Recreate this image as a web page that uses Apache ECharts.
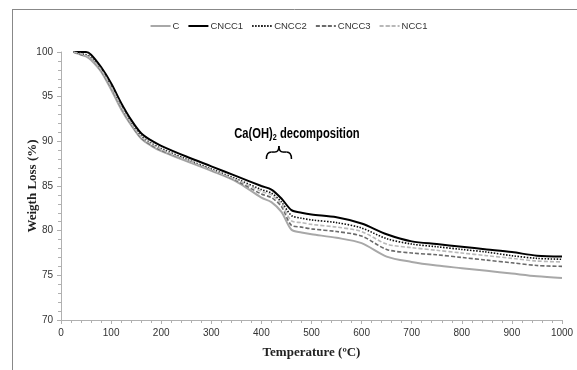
<!DOCTYPE html>
<html><head><meta charset="utf-8">
<script src="https://cdn.jsdelivr.net/npm/echarts@6/dist/echarts.min.js"></script>
<style>html,body{margin:0;padding:0;background:#fff}#c{width:577px;height:370px}</style>
</head><body><div id="c"></div>
<script>
const temps = [25,40,50,60,80,100,120,140,160,180,200,250,300,350,400,420,440,460,480,500,550,600,650,700,750,800,850,900,950,1000];
const C     = [100,99.7,99.5,99.1,97.8,95.8,93.6,91.8,90.3,89.5,88.9,87.8,86.7,85.5,83.7,83.2,82.1,80.1,79.8,79.6,79.2,78.6,77.1,76.5,76.1,75.8,75.5,75.2,74.9,74.7];
const CNCC1 = [100,100,100,99.7,98.3,96.5,94.3,92.4,90.9,90.1,89.5,88.3,87.2,86.1,85.0,84.6,83.6,82.3,82.0,81.8,81.5,80.8,79.6,78.8,78.5,78.2,77.9,77.6,77.2,77.1];
const CNCC2 = [100,99.8,99.7,99.4,98.1,96.2,94.0,92.1,90.6,89.8,89.2,88.0,86.9,85.8,84.6,84.2,83.2,81.7,81.4,81.2,80.9,80.3,79.1,78.5,78.2,77.9,77.6,77.2,76.9,76.8];
const CNCC3 = [100,99.7,99.6,99.3,97.9,96.0,93.8,91.9,90.4,89.6,89.0,87.9,86.8,85.6,84.1,83.7,82.7,80.6,80.4,80.2,79.9,79.4,77.9,77.5,77.3,77.0,76.7,76.4,76.1,76.0];
const NCC1  = [100,99.8,99.6,99.3,98.0,96.1,93.9,92.0,90.5,89.7,89.1,87.9,86.8,85.7,84.4,84.0,83.0,81.1,80.9,80.7,80.4,79.9,78.5,78.1,77.8,77.5,77.2,76.9,76.6,76.5];
const xTicks = [0,100,200,300,400,500,600,700,800,900,1000];
const yTicks = [70,75,80,85,90,95,100];

const pairs = a => temps.map((t,i)=>[t,a[i]]);
const chart = echarts.init(document.getElementById('c'));
const narrow = "'Liberation Sans Narrow','Liberation Sans',sans-serif";
const axisGray = '#b0b0b0';
function line(name, data, color, width, type){
  return {name, type:'line', data:pairs(data), smooth:0.3, showSymbol:false, symbol:'none',
    lineStyle:{color, width, type}, itemStyle:{color}};
}
chart.setOption({
  animation:false,
  backgroundColor:'#fff',
  grid:{left:61, right:15, top:52, bottom:50},
  legend:{top:16, left:'center', itemWidth:20, itemHeight:2, itemGap:8,
    textStyle:{fontFamily:narrow, fontSize:9.5, color:'#333', padding:[0,0,0,-3]},
    data:['C','CNCC1','CNCC2','CNCC3','NCC1']},
  xAxis:{type:'value', min:xTicks[0], max:xTicks[xTicks.length-1], interval:xTicks[1]-xTicks[0],
    name:'Temperature (ºC)', nameLocation:'middle', nameGap:26,
    nameTextStyle:{fontFamily:"'Liberation Serif',serif", fontWeight:'bold', fontSize:13, color:'#222'},
    axisLine:{lineStyle:{color:axisGray}}, axisTick:{lineStyle:{color:axisGray}, length:4},
    minorTick:{show:true, splitNumber:5, length:3, lineStyle:{color:axisGray}},
    splitLine:{show:false},
    axisLabel:{fontFamily:narrow, fontSize:10, color:'#333', margin:8, formatter:v=>String(v)}},
  yAxis:{type:'value', min:yTicks[0], max:yTicks[yTicks.length-1], interval:yTicks[1]-yTicks[0],
    name:'Weigth Loss (%)', nameLocation:'middle', nameGap:22, nameMoveOverlap:false,
    nameTextStyle:{fontFamily:"'Liberation Serif',serif", fontWeight:'bold', fontSize:13, color:'#222'},
    axisLine:{show:true, lineStyle:{color:axisGray}}, axisTick:{show:true, lineStyle:{color:axisGray}, length:4},
    minorTick:{show:true, splitNumber:5, length:3, lineStyle:{color:axisGray}},
    splitLine:{show:false},
    axisLabel:{fontFamily:narrow, fontSize:10, color:'#333', margin:8, formatter:v=>String(v)}},
  series:[
    line('C', C, '#a8a8a8', 2, 'solid'),
    line('CNCC1', CNCC1, '#000', 2, 'solid'),
    line('CNCC2', CNCC2, '#111', 1.6, [1.5,1.5]),
    line('CNCC3', CNCC3, '#6a6a6a', 1.6, [4,2]),
    line('NCC1', NCC1, '#b8b8b8', 1.6, [4,2])
  ]
});
// annotation + frame
const p1 = chart.convertToPixel({gridIndex:0}, [410, 88.8]);
const p2 = chart.convertToPixel({gridIndex:0}, [460, 88.8]);
const xm = (p1[0]+p2[0])/2, yb = p1[1];
const x1 = p1[0], x2 = p2[0];
const bs = {stroke:'#000', lineWidth:1.5, fill:null};
chart.setOption({graphic:[
  {type:'line', shape:{x1:12,y1:9.5,x2:577,y2:9.5}, style:{stroke:'#888', lineWidth:1}},
  {type:'line', shape:{x1:12.5,y1:9,x2:12.5,y2:370}, style:{stroke:'#888', lineWidth:1}},
  {type:'bezierCurve', shape:{x1:x1, y1:yb+7, x2:x1+5, y2:yb, cpx1:x1, cpy1:yb}, style:bs},
  {type:'line', shape:{x1:x1+5, y1:yb, x2:xm-4, y2:yb}, style:bs},
  {type:'bezierCurve', shape:{x1:xm-4, y1:yb, x2:xm, y2:yb-6, cpx1:xm, cpy1:yb}, style:bs},
  {type:'bezierCurve', shape:{x1:xm, y1:yb-6, x2:xm+4, y2:yb, cpx1:xm, cpy1:yb}, style:bs},
  {type:'line', shape:{x1:xm+4, y1:yb, x2:x2-5, y2:yb}, style:bs},
  {type:'bezierCurve', shape:{x1:x2-5, y1:yb, x2:x2, y2:yb+7, cpx1:x2, cpy1:yb}, style:bs},
  {type:'text', x:xm+18, y:yb-10, scaleX:0.8, style:{
    text:'{a|Ca(OH)}{s|2}{a| decomposition}', align:'center', verticalAlign:'bottom',
    rich:{a:{fontFamily:narrow, fontWeight:'bold', fontSize:14, color:'#000'},
          s:{fontFamily:narrow, fontWeight:'bold', fontSize:9, color:'#000', verticalAlign:'bottom', padding:[6,0,0,0]}}}}
]});
</script></body></html>
